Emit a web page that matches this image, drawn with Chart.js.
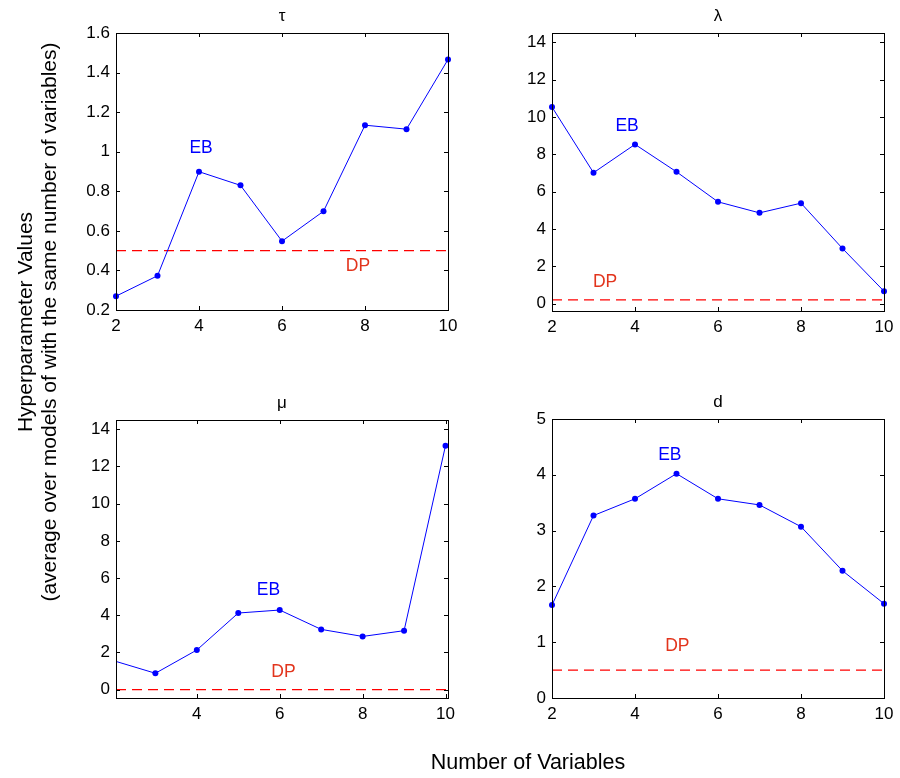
<!DOCTYPE html>
<html>
<head>
<meta charset="utf-8">
<title>Hyperparameter Values</title>
<script src="https://cdn.jsdelivr.net/npm/chart.js@4.4.1/dist/chart.umd.min.js"></script>
<style>
  html, body { margin: 0; padding: 0; background: #fff; }
  #page { position: relative; width: 900px; height: 778px; overflow: hidden; font-family: "Liberation Sans", Arial, sans-serif; }
  #page canvas { position: absolute; left: 0; top: 0; }
  .ylabel {
    position: absolute; left: 37px; top: 322px; width: 700px;
    transform: translate(-50%, -50%) rotate(-90deg);
    text-align: center; font-size: 21px; line-height: 24px; color: #000; white-space: nowrap;
  }
  .xlabel {
    position: absolute; left: 528px; top: 762px; transform: translate(-50%, -50%);
    font-size: 21.5px; line-height: 22px; color: #000; white-space: nowrap;
  }
</style>
</head>
<body>
<div id="page">
  <canvas id="tau-chart" width="900" height="778"></canvas>
  <canvas id="lambda-chart" width="900" height="778"></canvas>
  <canvas id="mu-chart" width="900" height="778"></canvas>
  <canvas id="d-chart" width="900" height="778"></canvas>
  <div class="ylabel">Hyperparameter Values<br>(average over models of with the same number of variables)</div>
  <div class="xlabel">Number of Variables</div>
</div>
<script>
  'use strict';

  // data
  const numVariables = [2, 3, 4, 5, 6, 7, 8, 9, 10];
  const tauEB = [0.27, 0.373, 0.899, 0.83, 0.548, 0.699, 1.134, 1.114, 1.466];
  const lambdaEB = [10.53, 7.01, 8.53, 7.06, 5.45, 4.86, 5.38, 2.95, 0.66];
  const muEB = [1.55, 0.88, 2.13, 4.12, 4.28, 3.24, 2.86, 3.17, 13.12];
  const dEB = [1.665, 3.27, 3.57, 4.02, 3.57, 3.46, 3.07, 2.28, 1.69];
  const dpValues = { tau: 0.5, lambda: 0.2, mu: 0, d: 0.5 };

  const xTicks = [2, 4, 6, 8, 10];
  const tauTicks = [0.2, 0.4, 0.6, 0.8, 1, 1.2, 1.4, 1.6];
  const lambdaTicks = [0, 2, 4, 6, 8, 10, 12, 14];
  const muTicks = [0, 2, 4, 6, 8, 10, 12, 14];
  const dTicks = [0, 1, 2, 3, 4, 5];

  const FONT = "'Liberation Sans', Arial, sans-serif";
  const BLUE = 'rgb(0, 0, 255)';
  const RED = 'rgb(255, 0, 0)';
  const DP_TEXT = 'rgb(226, 52, 28)';
  const Y_AXIS_W = 50;
  const X_AXIS_H = 30;

  // box, inward ticks, title and EB / DP labels
  const matlabAxes = {
    id: 'matlabAxes',
    afterDatasetsDraw(chart) {
      const opts = chart.options.plugins.matlabAxes;
      const { ctx, chartArea: a } = chart;
      const xs = chart.scales.x;
      const ys = chart.scales.y;
      ctx.save();
      ctx.strokeStyle = '#000';
      ctx.lineWidth = 1;
      ctx.beginPath();
      xs.ticks.forEach((t) => {
        const px = Math.round(xs.getPixelForValue(t.value)) + 0.5;
        ctx.moveTo(px, a.bottom); ctx.lineTo(px, a.bottom - 4);
        ctx.moveTo(px, a.top); ctx.lineTo(px, a.top + 4);
      });
      ys.ticks.forEach((t) => {
        const py = Math.round(ys.getPixelForValue(t.value)) + 0.5;
        ctx.moveTo(a.left, py); ctx.lineTo(a.left + 4, py);
        ctx.moveTo(a.right, py); ctx.lineTo(a.right - 4, py);
      });
      ctx.stroke();
      ctx.strokeRect(Math.round(a.left) + 0.5, Math.round(a.top) + 0.5,
        Math.round(a.right - a.left), Math.round(a.bottom - a.top));

      ctx.fillStyle = '#000';
      ctx.font = '17px ' + FONT;
      ctx.textAlign = 'center';
      ctx.textBaseline = 'middle';
      ctx.fillText(opts.title, (a.left + a.right) / 2, a.top - 17);

      ctx.font = '17.5px ' + FONT;
      opts.labels.forEach((l) => {
        ctx.fillStyle = l.color;
        ctx.fillText(l.text, xs.getPixelForValue(l.x), ys.getPixelForValue(l.y));
      });
      ctx.restore();
    }
  };

  function makePanel(id, cfg) {
    const ctx = document.getElementById(id);
    const a = cfg.area;
    const xMin = cfg.xMin !== undefined ? cfg.xMin : 2;
    const xMax = cfg.xMax !== undefined ? cfg.xMax : 10;

    new Chart(ctx, {
      type: 'line',
      data: {
        datasets: [
          {
            label: 'EB',
            data: numVariables.map((n, i) => ({ x: n, y: cfg.values[i] })),
            borderColor: BLUE,
            backgroundColor: BLUE,
            borderWidth: 1,
            pointRadius: 3,
            pointBorderWidth: 0,
            tension: 0,
            clip: cfg.clip,
          },
          {
            label: 'DP',
            data: [{ x: xMin, y: cfg.dp }, { x: xMax, y: cfg.dp }],
            borderColor: RED,
            borderWidth: 1.2,
            borderDash: [10, 6],
            pointRadius: 0,
            clip: 0,
          }
        ]
      },
      options: {
        responsive: false,
        animation: false,
        events: [],
        layout: {
          padding: {
            left: a.l - Y_AXIS_W,
            top: a.t,
            right: 900 - a.r,
            bottom: 778 - a.b - X_AXIS_H,
          }
        },
        scales: {
          x: {
            type: 'linear',
            min: xMin,
            max: xMax,
            grid: { display: false, drawTicks: false },
            border: { display: false },
            afterBuildTicks: (s) => { s.ticks = xTicks.filter((v) => v >= xMin && v <= xMax).map((v) => ({ value: v })); },
            afterFit: (s) => { s.height = X_AXIS_H; },
            ticks: { color: '#000', padding: 6, maxRotation: 0, font: { family: FONT, size: 17 }, callback: (v) => String(v) },
          },
          y: {
            type: 'linear',
            min: cfg.yMin,
            max: cfg.yMax,
            grid: { display: false, drawTicks: false },
            border: { display: false },
            afterBuildTicks: (s) => { s.ticks = cfg.yTicks.map((v) => ({ value: v })); },
            afterFit: (s) => { s.width = Y_AXIS_W; },
            ticks: { color: '#000', padding: 6, font: { family: FONT, size: 17 }, callback: (v) => String(v) },
          }
        },
        plugins: {
          legend: { display: false },
          tooltip: { enabled: false },
          matlabAxes: { title: cfg.title, labels: cfg.labels },
        }
      },
      plugins: [matlabAxes]
    });
  }

  // Panel 1: tau
  makePanel('tau-chart', {
    title: 'τ',
    area: { l: 116, t: 33, r: 448, b: 310 },
    values: tauEB, dp: dpValues.tau,
    yMin: 0.2, yMax: 1.6, yTicks: tauTicks,
    clip: false,
    labels: [
      { text: 'EB', x: 4.05, y: 1.02, color: BLUE },
      { text: 'DP', x: 7.83, y: 0.42, color: DP_TEXT },
    ]
  });

  // Panel 2: lambda
  makePanel('lambda-chart', {
    title: 'λ',
    area: { l: 552, t: 33, r: 884, b: 311 },
    values: lambdaEB, dp: dpValues.lambda,
    yMin: -0.4, yMax: 14.5, yTicks: lambdaTicks,
    clip: false,
    labels: [
      { text: 'EB', x: 3.81, y: 9.53, color: BLUE },
      { text: 'DP', x: 3.28, y: 1.16, color: DP_TEXT },
    ]
  });

  // Panel 3: mu
  makePanel('mu-chart', {
    title: 'μ',
    area: { l: 116, t: 420, r: 448, b: 698 },
    values: muEB, dp: dpValues.mu,
    xMin: 2.05, xMax: 10.06,
    yMin: -0.45, yMax: 14.5, yTicks: muTicks,
    clip: { left: 0, top: 4, right: 4, bottom: 4 },
    labels: [
      { text: 'EB', x: 5.73, y: 5.34, color: BLUE },
      { text: 'DP', x: 6.09, y: 0.95, color: DP_TEXT },
    ]
  });

  // Panel 4: d
  makePanel('d-chart', {
    title: 'd',
    area: { l: 552, t: 419, r: 884, b: 698 },
    values: dEB, dp: dpValues.d,
    yMin: 0, yMax: 5, yTicks: dTicks,
    clip: false,
    labels: [
      { text: 'EB', x: 4.84, y: 4.36, color: BLUE },
      { text: 'DP', x: 5.02, y: 0.92, color: DP_TEXT },
    ]
  });
</script>
</body>
</html>
